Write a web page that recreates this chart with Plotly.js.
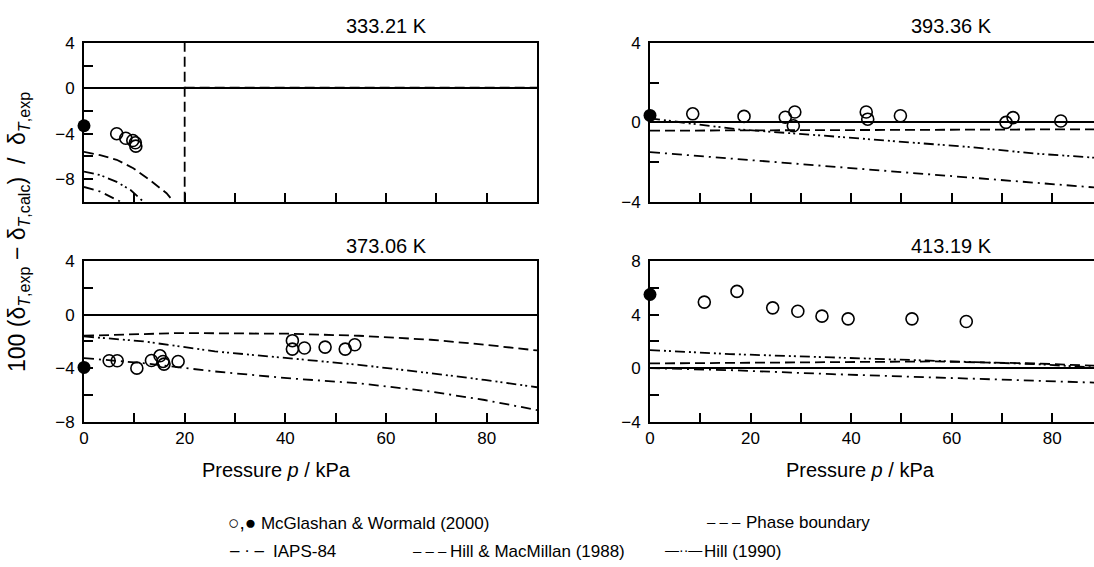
<!DOCTYPE html>
<html>
<head>
<meta charset="utf-8">
<script src="https://cdn.plot.ly/plotly-3.0.1.min.js"></script>
<style>html,body{margin:0;padding:0;background:#fff;}#chart{width:1094px;height:567px;}</style>
</head>
<body>
<div id="chart"></div>
<script>
// ---------- data ----------
// 333.21 K
const p333Fill = [0];
const d333Fill = [-3.3];
const p333Open = [6.5, 8.3, 9.7, 10.2, 10.3];
const d333Open = [-4.0, -4.4, -4.6, -4.8, -5.1];
const p333HM = [0, 3.2, 6.5, 9.8, 13.1, 16.4, 17.8, null, 20, 90];
const d333HM = [-5.6, -5.9, -6.3, -7.05, -8.1, -9.25, -10, null, 0.06, 0.06];
const p333Hill = [0, 3.2, 6.5, 9.2, 11.8];
const d333Hill = [-7.35, -7.65, -8.25, -8.95, -10];
const p333IAPS = [0, 3.2, 7.2];
const d333IAPS = [-8.7, -9.1, -10];
const p333Phase = [20, 20];
const d333Phase = [-10, 4];

// 393.36 K
const p393Fill = [0];
const d393Fill = [0.35];
const p393Open = [8.5, 18.7, 26.9, 28.8, 28.5, 43.0, 43.3, 49.8, 70.8, 72.2, 81.7];
const d393Open = [0.43, 0.30, 0.26, 0.52, -0.17, 0.52, 0.16, 0.33, 0.0, 0.24, 0.07];
const p393HM = [0, 30, 60, 88.3];
const d393HM = [-0.42, -0.4, -0.38, -0.35];
const p393Hill = [0, 17.3, 32.9, 49.8, 63.3, 76.9, 88.3];
const d393Hill = [0.2, -0.35, -0.64, -0.98, -1.24, -1.58, -1.78];
const p393IAPS = [0, 29.4, 49.8, 70.2, 88.3];
const d393IAPS = [-1.5, -2.09, -2.52, -2.94, -3.28];

// 373.06 K
const p373Fill = [0];
const d373Fill = [-3.95];
const p373Open = [5.0, 6.6, 10.5, 13.4, 15.1, 15.7, 15.9, 18.7, 41.4, 41.4, 43.8, 47.9, 51.9, 53.8];
const d373Open = [-3.45, -3.45, -4.0, -3.43, -3.08, -3.5, -3.7, -3.5, -1.95, -2.58, -2.5, -2.43, -2.58, -2.25];
const p373HM = [0, 18.9, 40.4, 54.6, 68.9, 79.6, 90];
const d373HM = [-1.58, -1.38, -1.43, -1.58, -1.88, -2.25, -2.68];
const p373Hill = [0, 11.8, 26, 40.4, 54.6, 68.9, 79.6, 90];
const d373Hill = [-1.63, -2.0, -2.75, -3.25, -3.75, -4.38, -4.88, -5.43];
const p373IAPS = [0, 11.8, 26, 40.4, 54.6, 68.9, 79.6, 90];
const d373IAPS = [-3.25, -3.63, -4.25, -4.75, -5.13, -5.75, -6.38, -7.13];

// 413.19 K
const p413Fill = [0];
const d413Fill = [5.5];
const p413Open = [10.8, 17.3, 24.4, 29.4, 34.2, 39.4, 52.1, 62.9];
const d413Open = [4.93, 5.73, 4.5, 4.25, 3.88, 3.68, 3.68, 3.48];
const p413HM = [0, 36.2, 56.5, 76.8, 88.3];
const d413HM = [0.35, 0.45, 0.5, 0.35, 0.18];
const p413Hill = [0, 15.9, 36.2, 56.5, 76.8, 88.3];
const d413Hill = [1.35, 1.05, 0.8, 0.55, 0.3, 0.05];
const p413IAPS = [0, 15.9, 36.2, 56.5, 76.8, 88.3];
const d413IAPS = [0, -0.15, -0.45, -0.7, -0.95, -1.08];

// tick positions and labels
const xTickVals = [0, 10, 20, 30, 40, 50, 60, 70, 80, 90];
const xTickText = ['0', '', '20', '', '40', '', '60', '', '80', ''];
const xTickTextNone = ['', '', '', '', '', '', '', '', '', ''];
const yTickVals333 = [-10, -8, -6, -4, -2, 0, 2, 4];
const yTickText333 = ['', '−8', '', '−4', '', '0', '', '4'];
const yTickVals393 = [-4, -2, 0, 2, 4];
const yTickText393 = ['−4', '', '0', '', '4'];
const yTickVals373 = [-8, -6, -4, -2, 0, 2, 4];
const yTickText373 = ['−8', '', '−4', '', '0', '', '4'];
const yTickVals413 = [-4, -2, 0, 2, 4, 6, 8];
const yTickText413 = ['−4', '', '0', '', '4', '', '8'];

const panelTitles = ['333.21 K', '393.36 K', '373.06 K', '413.19 K'];
const legendLabels = ['McGlashan & Wormald (2000)', 'Phase boundary', 'IAPS-84', 'Hill & MacMillan (1988)', 'Hill (1990)'];

// ---------- styling ----------
const W = 1094, H = 567;
const FONT = '"Liberation Sans", Arial, Helvetica, sans-serif';
const DASH_HM = '10px,5px';
const DASH_IAPS = '10px,5px,2px,5px';
const DASH_HILL = '10px,4px,2px,3px,2px,4px';
const LW = 1.8;
function px(x) { return x / W; }
function py(y) { return 1 - y / H; }

function lineTrace(x, y, dash, ax) {
  return { x: x, y: y, type: 'scatter', mode: 'lines', xaxis: ax[0], yaxis: ax[1],
    line: { color: '#000', width: LW, dash: dash }, connectgaps: false, hoverinfo: 'skip', showlegend: false };
}
function openTrace(x, y, ax) {
  return { x: x, y: y, type: 'scatter', mode: 'markers', xaxis: ax[0], yaxis: ax[1],
    marker: { symbol: 'circle-open', size: 12, color: '#000', line: { width: 1.6, color: '#000' } }, showlegend: false, cliponaxis: false };
}
function fillTrace(x, y, ax) {
  return { x: x, y: y, type: 'scatter', mode: 'markers', xaxis: ax[0], yaxis: ax[1],
    marker: { symbol: 'circle', size: 13, color: '#000' }, showlegend: false, cliponaxis: false };
}
const A1 = ['x', 'y'], A2 = ['x2', 'y2'], A3 = ['x3', 'y3'], A4 = ['x4', 'y4'];
const traces = [
  lineTrace(p333Phase, d333Phase, DASH_HM, A1), lineTrace(p333HM, d333HM, DASH_HM, A1),
  lineTrace(p333Hill, d333Hill, DASH_HILL, A1), lineTrace(p333IAPS, d333IAPS, DASH_IAPS, A1),
  openTrace(p333Open, d333Open, A1), fillTrace(p333Fill, d333Fill, A1),
  lineTrace(p393HM, d393HM, DASH_HM, A2), lineTrace(p393Hill, d393Hill, DASH_HILL, A2),
  lineTrace(p393IAPS, d393IAPS, DASH_IAPS, A2), openTrace(p393Open, d393Open, A2), fillTrace(p393Fill, d393Fill, A2),
  lineTrace(p373HM, d373HM, DASH_HM, A3), lineTrace(p373Hill, d373Hill, DASH_HILL, A3),
  lineTrace(p373IAPS, d373IAPS, DASH_IAPS, A3), openTrace(p373Open, d373Open, A3), fillTrace(p373Fill, d373Fill, A3),
  lineTrace(p413HM, d413HM, DASH_HM, A4), lineTrace(p413Hill, d413Hill, DASH_HILL, A4),
  lineTrace(p413IAPS, d413IAPS, DASH_IAPS, A4), openTrace(p413Open, d413Open, A4), fillTrace(p413Fill, d413Fill, A4)
];

const tickFont = { family: FONT, size: 17, color: '#000' };
function xAxis(domain, range, text, anchor) {
  return { domain: domain, range: range, anchor: anchor, showgrid: false, zeroline: false,
    showline: true, linecolor: '#000', linewidth: 2, mirror: true,
    tickmode: 'array', tickvals: xTickVals, ticktext: text,
    ticks: 'inside', ticklen: 9, tickwidth: 2, tickcolor: '#000',
    showticklabels: true, tickfont: tickFont, fixedrange: true, layer: 'above traces' };
}
function yAxis(domain, range, vals, text, mirror, anchor) {
  return { domain: domain, range: range, anchor: anchor, showgrid: false,
    zeroline: true, zerolinecolor: '#000', zerolinewidth: 2,
    showline: true, linecolor: '#000', linewidth: 2, mirror: mirror,
    tickmode: 'array', tickvals: vals, ticktext: text,
    ticks: 'inside', ticklen: 9, tickwidth: 2, tickcolor: '#000',
    tickfont: tickFont, ticklabelstandoff: 4, fixedrange: true, layer: 'above traces' };
}
const xL = [px(84), px(537)], xR = [px(650), 1];
const yT = [py(201.7), py(43)], yB = [py(421.7), py(261)];

const annFont = { family: FONT, size: 20, color: '#000' };
const yTitleFont = { family: FONT, size: 23, color: '#000' };
const legFont = { family: FONT, size: 17, color: '#000' };
const sampleFont = { family: FONT, size: 15, color: '#000' };
const sampleFontSmall = { family: FONT, size: 14, color: '#000' };

function ann(text, xref, x, y, font, xanchor) {
  return { text: text, xref: xref, x: x, yref: 'paper', y: y, showarrow: false, font: font,
    xanchor: xanchor || 'center', yanchor: 'middle' };
}
const annotations = [
  ann(panelTitles[0], 'x', 60, py(26), annFont),
  ann(panelTitles[1], 'x2', 60, py(26), annFont),
  ann(panelTitles[2], 'x3', 60, py(246), annFont),
  ann(panelTitles[3], 'x4', 60, py(246), annFont),
  ann('Pressure <i>p</i> / kPa', 'paper', px(276), py(470), annFont),
  ann('Pressure <i>p</i> / kPa', 'paper', px(860), py(470), annFont),
  Object.assign(ann('100 (δ<sub><i>T</i>,exp</sub> − δ<sub><i>T</i>,calc</sub>)  /  δ<sub><i>T</i>,exp</sub>', 'paper', px(18), py(232), yTitleFont), { textangle: -90 }),
  // legend
  ann('<span style="font-size:19px">○,●</span> ' + legendLabels[0], 'paper', px(226), py(522), legFont, 'left'),
  ann('– – –', 'paper', px(705), py(521), sampleFont, 'left'),
  ann(legendLabels[1], 'paper', px(744), py(522), legFont, 'left'),
  ann('– · –', 'paper', px(228), py(550), legFont, 'left'),
  ann(legendLabels[2], 'paper', px(271), py(551), legFont, 'left'),
  ann('– – –', 'paper', px(411), py(550), sampleFont, 'left'),
  ann(legendLabels[3], 'paper', px(448), py(551), legFont, 'left'),
  ann('—··—', 'paper', px(663), py(550), sampleFontSmall, 'left'),
  ann(legendLabels[4], 'paper', px(702), py(551), legFont, 'left')
];

const layout = {
  width: W, height: H, margin: { l: 0, r: 0, t: 0, b: 0 },
  paper_bgcolor: '#fff', plot_bgcolor: '#fff', showlegend: false,
  font: { family: FONT, color: '#000' },
  xaxis: xAxis(xL, [0, 90], xTickTextNone, 'y'),
  yaxis: yAxis(yT, [-10, 4], yTickVals333, yTickText333, true, 'x'),
  xaxis2: xAxis(xR, [0, 88.3], xTickTextNone, 'y2'),
  yaxis2: yAxis(yT, [-4, 4], yTickVals393, yTickText393, false, 'x2'),
  xaxis3: xAxis(xL, [0, 90], xTickText, 'y3'),
  yaxis3: yAxis(yB, [-8, 4], yTickVals373, yTickText373, true, 'x3'),
  xaxis4: xAxis(xR, [0, 88.3], xTickText, 'y4'),
  yaxis4: yAxis(yB, [-4, 8], yTickVals413, yTickText413, false, 'x4'),
  annotations: annotations
};

Plotly.newPlot('chart', traces, layout, { staticPlot: true, displayModeBar: false });
</script>
</body>
</html>
